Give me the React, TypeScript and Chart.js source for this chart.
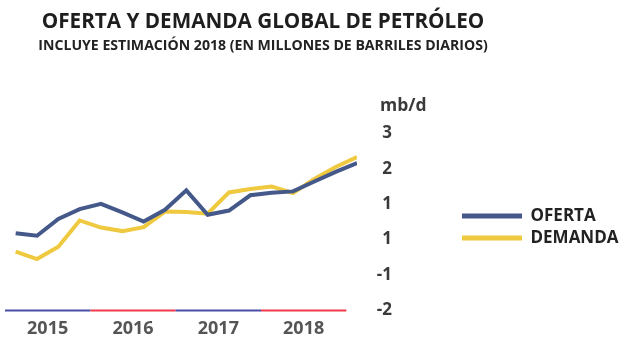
import React, { useEffect, useRef } from 'react';
import { Chart, registerables } from 'chart.js';

Chart.register(...registerables);

const TITLE = 'OFERTA Y DEMANDA GLOBAL DE PETRÓLEO';
const SUBTITLE = 'INCLUYE ESTIMACIÓN 2018 (EN MILLONES DE BARRILES DIARIOS)';
const UNIT = 'mb/d';
const YEARS = ['2015', '2016', '2017', '2018'];
const QUARTERS_PER_YEAR = 4;
const SERIES_NAMES = ['OFERTA', 'DEMANDA'];
// quarterly change, million barrels per day
const OFERTA = [0.18, 0.11, 0.58, 0.86, 1.01, 0.77, 0.51, 0.84, 1.39, 0.7, 0.82, 1.25, 1.32, 1.36, 1.64, 1.91, 2.16];
const DEMANDA = [-0.34, -0.55, -0.2, 0.54, 0.34, 0.24, 0.35, 0.79, 0.78, 0.73, 1.33, 1.43, 1.5, 1.31, 1.71, 2.05, 2.33];
const Y_TICK_VALUES = [-2, -1, 0, 1, 2, 3];
const Y_TICK_LABELS = ['-2', '-1', '1', '1', '2', '3'];

const FONT = "'Open Sans', sans-serif";
const SERIES_COLORS = ['#44598a', '#efc940'];
const BASELINE_COLORS = ['#4a4ea6', '#f0394a'];

const baselinePlugin = {
  id: 'yearBaseline',
  beforeDatasetsDraw(chart: any) {
    const { ctx, chartArea, scales } = chart;
    const x = scales.x;
    ctx.save();
    ctx.lineWidth = 2;
    YEARS.forEach((_, i) => {
      const start = x.getPixelForValue(i * QUARTERS_PER_YEAR - 0.5);
      const end = x.getPixelForValue((i + 1) * QUARTERS_PER_YEAR - 0.5);
      ctx.strokeStyle = BASELINE_COLORS[i % 2];
      ctx.beginPath();
      ctx.moveTo(start, chartArea.bottom);
      ctx.lineTo(end, chartArea.bottom);
      ctx.stroke();
    });
    ctx.restore();
  },
};

const unitPlugin = {
  id: 'unitLabel',
  afterDraw(chart: any) {
    const { ctx, scales } = chart;
    const y = scales.y;
    ctx.save();
    ctx.font = `bold 17.5px ${FONT}`;
    ctx.fillStyle = '#3a3a3a';
    ctx.textAlign = 'left';
    ctx.textBaseline = 'alphabetic';
    ctx.fillText(UNIT, y.left + 23, y.getPixelForValue(y.max) - 22);
    ctx.restore();
  },
};

// place the legend a fixed gap to the right of the value axis, a bit below centre,
// and let it use the remaining width so its labels are not clipped
const legendShiftPlugin = {
  id: 'legendShift',
  afterLayout(chart: any) {
    const lg = chart.legend;
    const y = chart.scales.y;
    if (lg && y) {
      lg.left = y.right + 65;
      lg.right = chart.width;
      lg.width = lg.right - lg.left;
      lg.top += 5;
      lg.bottom += 5;
    }
  },
};

export default function App() {
  const ref = useRef<HTMLCanvasElement | null>(null);

  useEffect(() => {
    if (!ref.current) return;
    const series = [OFERTA, DEMANDA];
    const chart = new Chart(ref.current, {
      type: 'line',
      data: {
        datasets: series.map((vals, s) => ({
          label: SERIES_NAMES[s],
          data: vals.map((v, i) => ({ x: i, y: v })),
          borderColor: SERIES_COLORS[s],
          backgroundColor: SERIES_COLORS[s],
          borderWidth: 4,
          pointRadius: 0,
          tension: 0,
          fill: false,
        })),
      },
      options: {
        animation: false,
        responsive: true,
        maintainAspectRatio: false,
        layout: { padding: { left: 5, right: 112, top: 0, bottom: 4.5 } },
        plugins: {
          title: {
            display: true,
            text: TITLE,
            color: '#1e1e1e',
            font: { family: FONT, size: 20.7, weight: 'bold' },
            padding: { top: 10, bottom: 0 },
          },
          subtitle: {
            display: true,
            text: SUBTITLE,
            color: '#222',
            font: { family: FONT, size: 14.1, weight: 'bold' },
            padding: { top: 3, bottom: 78.5 },
          },
          legend: {
            display: true,
            position: 'right',
            fullSize: false,
            labels: {
              boxWidth: 60,
              boxHeight: 5,
              padding: 5,
              color: '#222',
              font: { family: FONT, size: 17, weight: 'bold' },
              generateLabels: (c: any) =>
                Chart.defaults.plugins.legend.labels
                  .generateLabels(c)
                  .map((l: any) => ({ ...l, lineWidth: 0 })),
            },
          },
          tooltip: { enabled: false },
        },
        scales: {
          x: {
            type: 'linear',
            min: -0.5,
            max: OFERTA.length - 1,
            grid: { display: false, drawTicks: false },
            border: { display: false },
            afterBuildTicks: (s: any) => {
              s.ticks = YEARS.map((_, i) => ({ value: i * QUARTERS_PER_YEAR + (QUARTERS_PER_YEAR - 1) / 2 }));
            },
            ticks: {
              autoSkip: false,
              maxRotation: 0,
              padding: 7.7,
              color: '#555',
              font: { family: FONT, size: 18, weight: 'bold' },
              callback: (_v: any, i: number) => YEARS[i],
            },
          },
          y: {
            position: 'right',
            min: Y_TICK_VALUES[0],
            max: Y_TICK_VALUES[Y_TICK_VALUES.length - 1],
            grid: { display: false, drawTicks: false },
            border: { display: false },
            afterBuildTicks: (s: any) => {
              s.ticks = Y_TICK_VALUES.map((v) => ({ value: v }));
            },
            afterFit: (s: any) => {
              s.width = 35;
            },
            ticks: {
              crossAlign: 'far',
              padding: 10,
              color: '#3a3a3a',
              font: { family: FONT, size: 17, weight: 'bold' },
              callback: (v: any) => Y_TICK_LABELS[Y_TICK_VALUES.indexOf(Number(v))],
            },
          },
        },
      } as any,
      plugins: [baselinePlugin, unitPlugin, legendShiftPlugin],
    });
    return () => chart.destroy();
  }, []);

  return (
    <div style={{ position: 'fixed', left: 0, top: 0, width: 633, height: 352, background: '#fff' }}>
      <canvas ref={ref} />
    </div>
  );
}
